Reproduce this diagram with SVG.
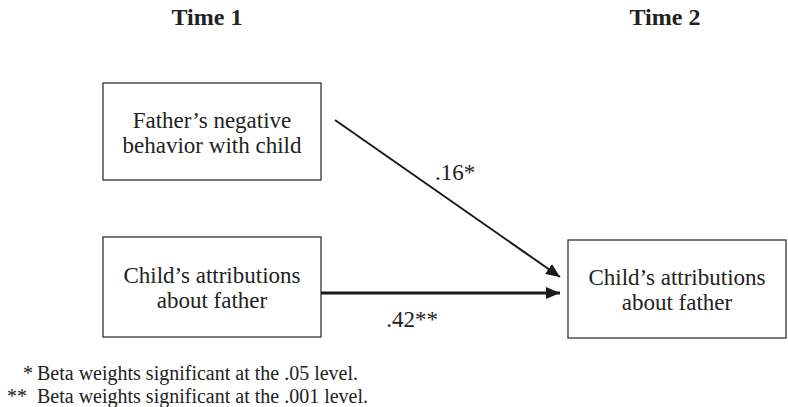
<svg xmlns="http://www.w3.org/2000/svg" width="788" height="407" viewBox="0 0 788 407">
<style>
text{font-family:"Liberation Serif","Times New Roman",serif;fill:#222;}
.hdr{font-size:24px;font-weight:bold;text-anchor:middle;}
.lbl{font-size:23px;text-anchor:middle;}
.coef{font-size:23px;text-anchor:middle;}
.note{font-size:20px;}
.box{fill:#fff;stroke:#333;stroke-width:1.3;}
.con{stroke:#1a1a1a;fill:none;}
</style>
<defs>
<marker id="ah2" markerWidth="14" markerHeight="12" refX="14" refY="6" orient="auto" markerUnits="userSpaceOnUse">
<path d="M0,0 L14,6 L0,12 z" fill="#1a1a1a"/>
</marker>
</defs>
<text class="hdr" x="207" y="25">Time 1</text>
<text class="hdr" x="665" y="25">Time 2</text>
<g id="father">
<rect class="box" x="103" y="83" width="218" height="97"/>
<text class="lbl" x="212" y="128">Father’s negative</text>
<text class="lbl" x="212" y="153">behavior with child</text>
</g>
<g id="child1">
<rect class="box" x="103" y="237" width="218" height="100"/>
<text class="lbl" x="212" y="283">Child’s attributions</text>
<text class="lbl" x="212" y="308">about father</text>
</g>
<g id="child2">
<rect class="box" x="568" y="240" width="218" height="98"/>
<text class="lbl" x="677" y="285">Child’s attributions</text>
<text class="lbl" x="677" y="310">about father</text>
</g>
<g id="connectors">
<line class="con" x1="335" y1="120" x2="560" y2="277" stroke-width="2" marker-end="url(#ah2)"/>
<line class="con" x1="321" y1="293" x2="560" y2="293" stroke-width="3.2" marker-end="url(#ah2)"/>
<text class="coef" x="455" y="180">.16*</text>
<text class="coef" x="412" y="327">.42**</text>
</g>
<text class="note" x="23" y="380">*</text>
<text class="note" x="37" y="380">Beta weights significant at the .05 level.</text>
<text class="note" x="7" y="403">**</text>
<text class="note" x="37" y="403">Beta weights significant at the .001 level.</text>
</svg>
